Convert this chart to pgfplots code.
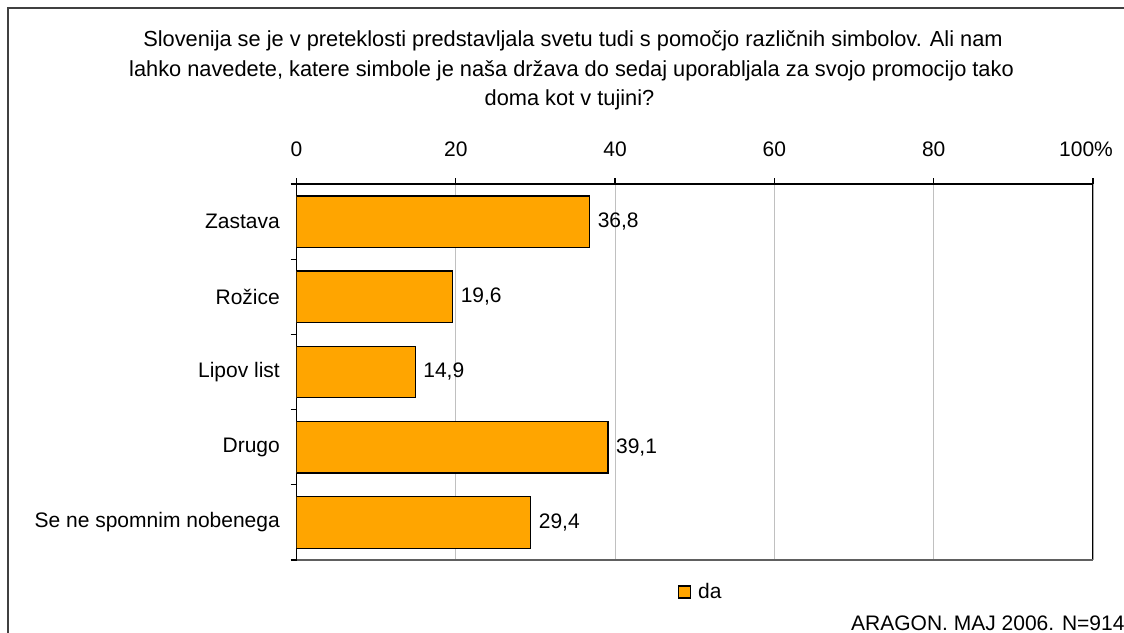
\documentclass[border=0pt]{standalone}
\usepackage{pgfplots}
\pgfplotsset{compat=1.18}
\usepackage{fontspec}
\setmainfont{Liberation Sans}
\definecolor{barorange}{HTML}{FFA500}
\definecolor{gridgray}{HTML}{C0C0C0}
\definecolor{framegray}{HTML}{404040}
\definecolor{bottomgray}{HTML}{606060}
\begin{document}
\fontsize{21}{25}\selectfont
\begin{tikzpicture}[x=1pt,y=1pt]
\useasboundingbox (0,0) rectangle (1124,632);
\draw[framegray, line width=1.3pt] (8,-20) -- (8,624) -- (1140,624);
\begin{scope}[every node/.style={font=\fontsize{21.8}{26}\selectfont}]
\node[anchor=base, inner sep=0pt] at (573,585.3) {Slovenija se je v preteklosti predstavljala svetu tudi s pomočjo različnih simbolov. Ali nam};
\node[anchor=base, inner sep=0pt] at (571.5,555.3) {lahko navedete, katere simbole je naša država do sedaj uporabljala za svojo promocijo tako};
\node[anchor=base, inner sep=0pt] at (569.5,526) {doma kot v tujini?};
\end{scope}
\node[anchor=base west, inner sep=0pt] at (851,1.5) {ARAGON. MAJ 2006. N=914};
\begin{axis}[
  at={(296.5pt,72pt)}, anchor=south west, scale only axis,
  width=796.5pt, height=376pt,
  xbar, bar width=51.5pt,
  xmin=0, xmax=100, ymin=-0.5, ymax=4.5, y dir=reverse,
  axis x line*=top, axis y line*=left,
  axis line style={black, line width=1.3pt},
  xtick={0,20,40,60,80,100},
  xticklabels={0,20,40,60,80,\hspace*{-14pt}100\%},
  ytick={-0.5,0.5,1.5,2.5,3.5,4.5},
  yticklabels={Zastava,Rožice,Lipov list,Drugo,Se ne spomnim nobenega},
  y tick label as interval,
  tick align=outside, major tick length=6pt,
  tick style={black, line width=1.3pt},
  xmajorgrids, major grid style={gridgray, line width=1pt},
  ymajorgrids=false,
  /pgf/number format/assume math mode=true,
  xticklabel style={anchor=base, inner sep=0pt, yshift=22pt},
  yticklabel style={anchor=east, inner sep=0pt, xshift=-10.5pt},
  nodes near coords={\pgfmathprintnumber[fixed, fixed zerofill, precision=1, use comma]{\pgfplotspointmeta}},
  nodes near coords style={anchor=west, inner sep=0pt, xshift=7.5pt, black},
  point meta=x,
  legend style={draw=none, fill=none, at={(axis description cs:0.4786,-0.0851)}, anchor=west, inner sep=0pt, nodes={inner sep=0pt}, /tikz/column sep=7pt},
  legend image code/.code={\draw[fill=barorange, draw=black, line width=1.3pt] (0pt,-6pt) rectangle (12pt,6pt);},
]
\addplot[fill=barorange, draw=black, line width=1.3pt] coordinates {
  (36.8,0) (19.6,1) (14.9,2) (39.1,3) (29.4,4)
};
\addlegendentry{da}
\draw[black, line width=1.3pt] (axis description cs:1,0) -- (axis description cs:1,1);
\draw[bottomgray, line width=1.3pt] (axis description cs:0,0) -- (axis description cs:1,0);
\end{axis}
\end{tikzpicture}
\end{document}
